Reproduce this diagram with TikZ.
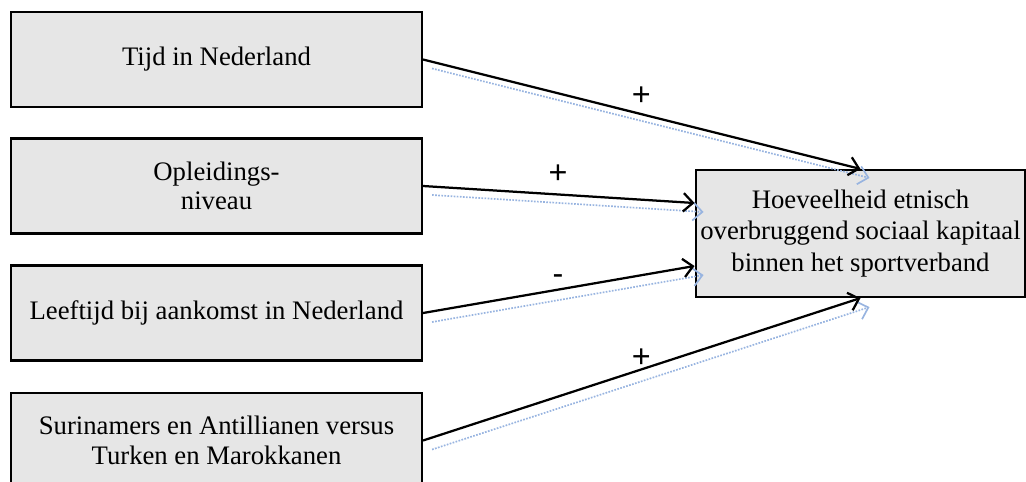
\documentclass[tikz,border=0pt]{standalone}
\usepackage{fontspec}
\setmainfont{Liberation Serif}
\newfontfamily\signfont{Liberation Sans}
\usetikzlibrary{arrows.meta}
\definecolor{boxgray}{HTML}{E6E6E6}
\definecolor{ghostblue}{HTML}{98B4E0}

\begin{document}
\begin{tikzpicture}[
    factor/.style={draw, line width=1.5pt, fill=boxgray, minimum width=10.275cm,
      minimum height=2.375cm, align=center, font=\fontsize{19}{21}\selectfont},
    effect/.style={-{Straight Barb[length=2.4mm,width=4.6mm]}, line width=1.6pt},
    ghost/.style={-{Straight Barb[length=2.4mm,width=4.6mm]}, draw=ghostblue, line width=1.2pt,
      densely dotted, transform canvas={shift={(0.225,-0.225)}}},
    sign/.style={font=\signfont\fontsize{23}{23}\selectfont}
  ]

  \useasboundingbox (0,0) rectangle (25.65,-12.025);

  \node[factor] (tijd) at (5.4125,-1.4875) {Tijd in Nederland};
  \node[factor] (opl) at (5.4125,-4.65) {Opleidings-\\niveau};
  \node[factor] (leeftijd) at (5.4125,-7.825) {Leeftijd bij aankomst in Nederland};
  \node[factor] (herkomst) at (5.4125,-11.0125) {Surinamers en Antillianen versus\\Turken en Marokkanen};

  \node[factor, minimum width=8.175cm, minimum height=3.175cm,
    font=\fontsize{19}{22.4}\selectfont] (kapitaal) at (21.5125,-5.8375)
    {Hoeveelheid etnisch\\overbruggend sociaal kapitaal\\binnen het sportverband};

  % faint copies below the arrows
  \draw[ghost] (tijd.east) -- (kapitaal.north);
  \draw[ghost] (opl.east) -- ([yshift=0.7625cm]kapitaal.west);
  \draw[ghost] (leeftijd.east) -- ([yshift=-0.8125cm]kapitaal.west);
  \draw[ghost] (herkomst.east) -- (kapitaal.south);

  \draw[effect] (tijd.east) -- (kapitaal.north);
  \draw[effect] (opl.east) -- ([yshift=0.7625cm]kapitaal.west);
  \draw[effect] (leeftijd.east) -- ([yshift=-0.8125cm]kapitaal.west);
  \draw[effect] (herkomst.east) -- (kapitaal.south);

  \node[sign] (s1) at (16.03,-2.4) {+};
  \node[sign] (s2) at (13.95,-4.35) {+};
  \node[sign] (s3) at (13.95,-7.0) {-};
  \node[sign] (s4) at (16.03,-8.95) {+};

\end{tikzpicture}
\end{document}
